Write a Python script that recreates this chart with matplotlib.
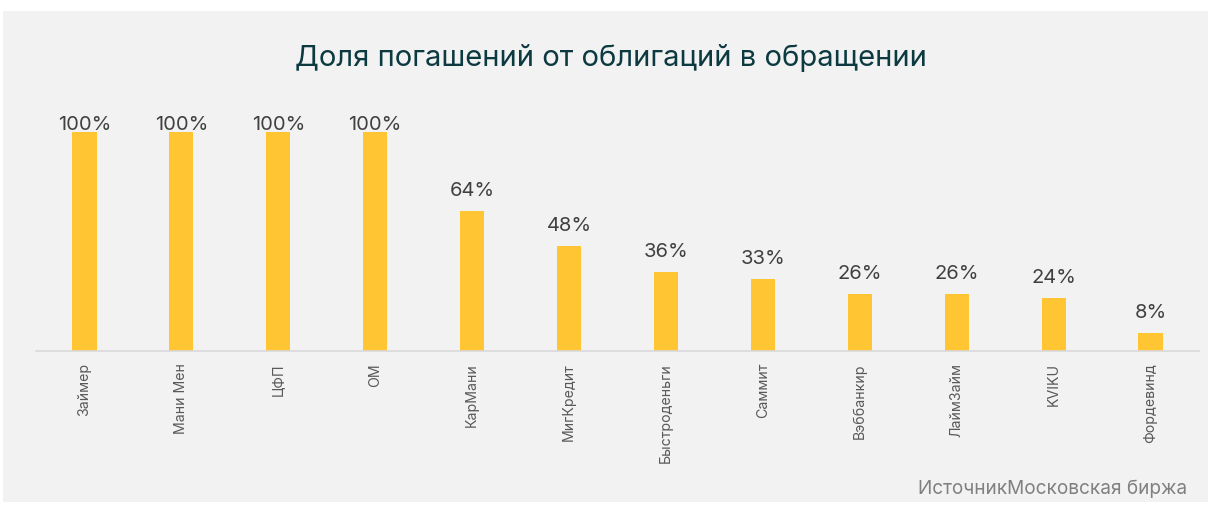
import matplotlib.pyplot as plt
from matplotlib.patches import Rectangle

companies = ['Займер', 'Мани Мен', 'ЦФП', 'ОМ', 'КарМани', 'МигКредит',
             'Быстроденьги', 'Саммит', 'Вэббанкир', 'ЛаймЗайм', 'KVIKU', 'Фордевинд']
shares = [100, 100, 100, 100, 64, 48, 36, 33, 26, 26, 24, 8]

plt.rcParams['font.family'] = ['Inter', 'DejaVu Sans']

fig = plt.figure(figsize=(12.18, 5.06), dpi=100)
fig.patch.set_facecolor('white')
fig.patches.append(Rectangle((3 / 1218, 3 / 506), 1205 / 1218, 491 / 506,
                             transform=fig.transFigure, facecolor='#f2f2f2',
                             edgecolor='none', zorder=-10))

ax = fig.add_axes([36 / 1218, (506 - 352) / 506, 1163 / 1218, 250 / 506])
ax.set_facecolor('none')

x = list(range(len(companies)))
ax.bar(x, shares, width=0.25, color='#ffc533', zorder=2)
# labels sit above the bar, but the tall ones get squeezed against the plot top
for xi, v in zip(x, shares):
    ax.text(xi, min(v + 7.3, 101.4), f'{v}%', ha='center', va='baseline',
            fontsize=14.5, color='#404040')

ax.set_xlim(-0.5, len(companies) - 0.5)
ax.set_ylim(0, 100 * 250 / 219)
ax.set_xticks(x)
ax.set_xticklabels(companies, rotation=90, fontsize=10.2, color='#595959', va='top')
ax.tick_params(axis='x', length=0, pad=8)
ax.set_yticks([])
for s in ['top', 'right', 'left']:
    ax.spines[s].set_visible(False)
ax.spines['bottom'].set_color('#d9d9d9')
ax.spines['bottom'].set_linewidth(1.2)

fig.text(611 / 1218, 1 - 58 / 506, 'Доля погашений от облигаций в обращении',
         ha='center', va='center', fontsize=21, color='#0c3a40')
fig.text(1187 / 1218, 1 - 489 / 506, 'ИсточникМосковская биржа',
         ha='right', va='center', fontsize=13.7, color='#808080')

fig.savefig('out.png', dpi=100)
